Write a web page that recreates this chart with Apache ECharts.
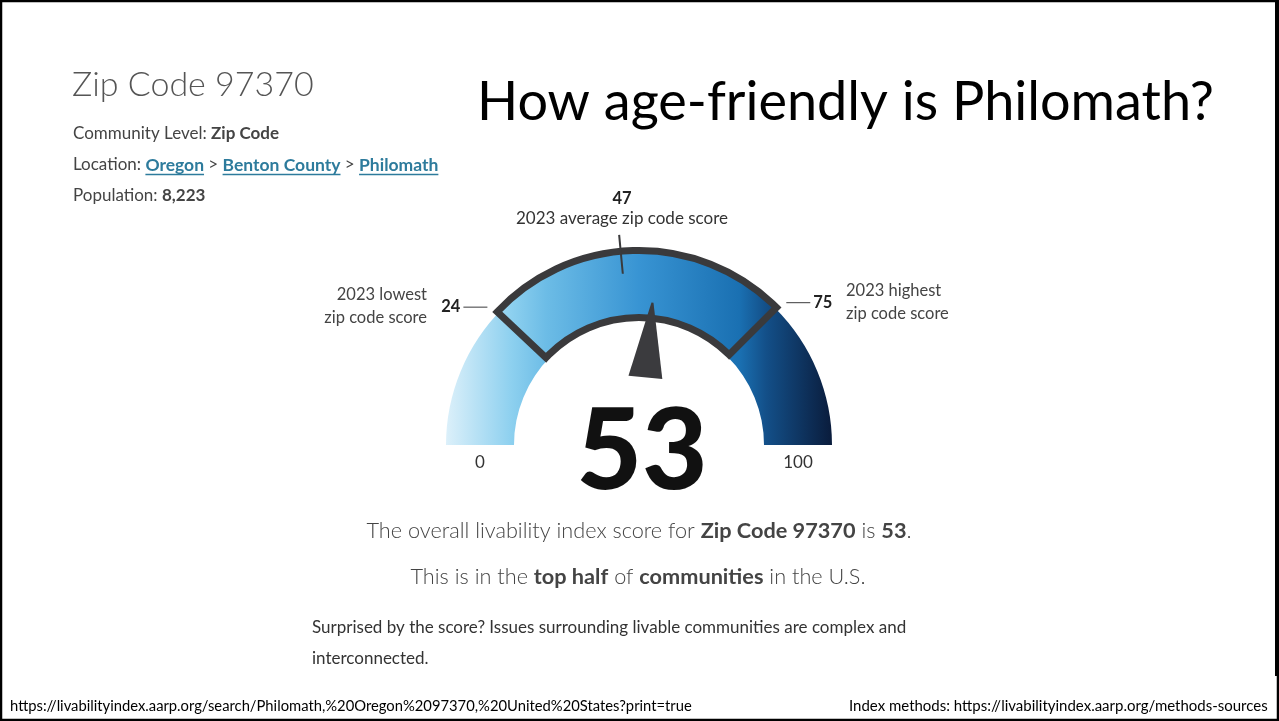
<!DOCTYPE html>
<html>
<head>
<meta charset="utf-8">
<title>How age-friendly is Philomath?</title>
<script src="https://cdn.jsdelivr.net/npm/echarts@6/dist/echarts.min.js"></script>
<style>
  html, body { margin: 0; padding: 0; background: #fff; }
  #main { width: 1279px; height: 721px; }
</style>
</head>
<body>
<div id="main"></div>
<script>
// values
const scaleRange = [0, 100];
const scaleLabels = ['0', '100'];
const markerNames = ['2023 lowest\nzip code score', '2023 average zip code score', '2023 highest\nzip code score'];
const markerValues = [24, 47, 75]; // lowest, average, highest
const scoreValue = [53];

const textColor = '#444';
const darkColor = '#3a3a3c';
const cx = 639, cy = 445, R = 193;

const myChart = echarts.init(document.getElementById('main'));

// helpers to place labels next to the gauge
function angleOf(v) {
  return Math.PI * (1 - (v - scaleRange[0]) / (scaleRange[1] - scaleRange[0]));
}
function polar(v, r) {
  const a = angleOf(v);
  return [cx + r * Math.cos(a), cy - r * Math.sin(a)];
}
function deg(v) { return angleOf(v) * 180 / Math.PI; }

const ctx = document.createElement('canvas').getContext('2d');
function tw(str, size, weight) {
  ctx.font = (weight || 'normal') + ' ' + size + 'px Lato';
  return ctx.measureText(str).width;
}
function fit(str, width, weight) {
  return 20 * width / tw(str, 20, weight);
}

function txt(x, y, text, size, opts) {
  opts = opts || {};
  return {
    type: 'text', x: x, y: y, z: 10,
    style: {
      text: text,
      fontFamily: opts.family || 'Lato',
      fontSize: size,
      fontWeight: opts.weight || 'normal',
      fill: opts.color || textColor,
      align: opts.align || 'left',
      verticalAlign: 'middle',
      lineHeight: opts.lineHeight,
      rich: opts.rich
    }
  };
}
function line(x1, y1, x2, y2, color, w) {
  return { type: 'line', z: 10, shape: { x1: x1, y1: y1, x2: x2, y2: y2 },
    style: { stroke: color || darkColor, lineWidth: w || 1 } };
}

const graphics = [];
// page frame
graphics.push({ type: 'rect', z: 20, shape: { x: 1, y: 1, width: 1277, height: 719 },
  style: { fill: 'none', stroke: '#000', lineWidth: 2.5 } });
graphics.push(line(1276, 0, 1276, 676, '#000', 2));

// header block
const richHead = {
  n: { fontFamily: 'Lato', fontSize: 17, color: textColor },
  b: { fontFamily: 'Lato', fontSize: 17, fontWeight: 'bold', color: '#333' }
};
graphics.push(txt(72, 85, 'Zip Code 97370', 34, { weight: 300, color: '#555' }));
graphics.push(txt(73, 134, '{n|Community Level: }{b|Zip Code}', 17, { rich: richHead }));
const locParts = [['Location: ', 0], ['Oregon', 1], [' > ', 0], ['Benton County', 1], [' > ', 0], ['Philomath', 1]];
let lx = 73;
locParts.forEach(function (p) {
  const size = p[1] ? 17.5 : 17;
  const w = tw(p[0], size, p[1] ? 'bold' : 'normal');
  graphics.push(txt(lx, 165, p[0], size, { weight: p[1] ? 'bold' : 'normal', color: p[1] ? '#2d7b9c' : textColor }));
  if (p[1]) graphics.push(line(lx, 174.5, lx + w, 174.5, '#2d7b9c', 1.5));
  lx += w;
});
graphics.push(txt(73, 196, '{n|Population: }{b|8,223}', 17, { rich: richHead }));

// slide title
const title = 'How age-friendly is Philomath?';
graphics.push(txt(477, 103, title, fit(title, 737), { color: '#000' }));

// lowest / highest markers
const pLow = polar(markerValues[0], 197);
const pHigh = polar(markerValues[2], 197);
graphics.push(line(pLow[0] - 32, pLow[1] - 3, pLow[0] - 8, pLow[1] - 3));
graphics.push(line(pHigh[0] + 8, pHigh[1] - 3, pHigh[0] + 32, pHigh[1] - 3));
graphics.push(txt(pLow[0] - 35, pLow[1] - 3, String(markerValues[0]), 16.5, { weight: 'bold', color: '#222', align: 'right' }));
graphics.push(txt(pHigh[0] + 35, pHigh[1] - 3, String(markerValues[2]), 16.5, { weight: 'bold', color: '#222' }));
graphics.push(txt(427, 306, markerNames[0], 16.5, { align: 'right', lineHeight: 23 }));
graphics.push(txt(846, 302, markerNames[2], 16.5, { lineHeight: 23 }));

// scale end labels under the band
graphics.push(txt(polar(scaleRange[0], 159)[0], 463, scaleLabels[0], 17, { align: 'center', color: '#333' }));
graphics.push(txt(polar(scaleRange[1], 159)[0], 463, scaleLabels[1], 17, { align: 'center', color: '#333' }));

// sentences under the gauge
const richBody = {
  l: { fontFamily: 'Lato', fontSize: 21.7, fontWeight: 300, color: '#444' },
  b: { fontFamily: 'Lato', fontSize: 21.7, fontWeight: 'bold', color: '#333' }
};
graphics.push(txt(639, 531, '{l|The overall livability index score for }{b|Zip Code 97370}{l| is }{b|' + scoreValue[0] + '}{l|.}', 21.7, { align: 'center', rich: richBody }));
graphics.push(txt(638, 577, '{l|This is in the }{b|top half}{l| of }{b|communities}{l| in the U.S.}', 21.7, { align: 'center', rich: richBody }));
graphics.push(txt(312, 628, 'Surprised by the score? Issues surrounding livable communities are complex and', 17, { color: '#333' }));
graphics.push(txt(312, 659, 'interconnected.', 17, { color: '#333' }));

// footer
const srcLeft = 'https://livabilityindex.aarp.org/search/Philomath,%20Oregon%2097370,%20United%20States?print=true';
const srcRight = 'Index methods: https://livabilityindex.aarp.org/methods-sources';
graphics.push(txt(10, 706, srcLeft, fit(srcLeft, 682), { color: '#000' }));
graphics.push(txt(849, 706, srcRight, fit(srcRight, 419), { color: '#000' }));

const bandGradient = new echarts.graphic.LinearGradient(cx - R, 0, cx + R, 0, [
  { offset: 0, color: '#dcf0fa' },
  { offset: 0.17, color: '#8dd0ef' },
  { offset: 0.26, color: '#6cbce6' },
  { offset: 0.5, color: '#3894d3' },
  { offset: 0.76, color: '#1a70b2' },
  { offset: 0.83, color: '#134f88' },
  { offset: 1, color: '#0a1c3c' }
], true);

const noAxis = {
  axisTick: { show: false }, splitLine: { show: false }, axisLabel: { show: false },
  anchor: { show: false }, title: { show: false }
};

const option = {
  animation: false,
  graphic: graphics,
  series: [
    // coloured band 0..100
    Object.assign({
      type: 'gauge', center: [cx, cy], radius: R,
      startAngle: 180, endAngle: 0, min: scaleRange[0], max: scaleRange[1],
      axisLine: { lineStyle: { width: 68, color: [[1, bandGradient]] } },
      pointer: { show: false }, detail: { show: false },
      data: [{ value: scoreValue[0] }]
    }, noAxis),
    // framed range lowest..highest
    Object.assign({
      type: 'gauge', center: [cx, cy], radius: 194.5,
      startAngle: deg(markerValues[0]), endAngle: deg(markerValues[2]),
      min: markerValues[0], max: markerValues[2],
      axisLine: { show: false },
      progress: { show: true, width: 67, itemStyle: { color: 'rgba(0,0,0,0)', borderColor: darkColor, borderWidth: 7 } },
      pointer: { show: false }, detail: { show: false },
      data: [{ value: markerValues[2] }]
    }, noAxis),
    // average tick and its label
    Object.assign({
      type: 'gauge', center: [cx, cy], radius: R,
      startAngle: 180, endAngle: 0, min: scaleRange[0], max: scaleRange[1],
      axisLine: { show: false },
      pointer: { icon: 'rect', width: 2, length: 39, offsetCenter: [0, -172], itemStyle: { color: darkColor } },
      detail: {
        offsetCenter: [-17, -234], width: 300, height: 44, padding: 0, lineHeight: 20,
        fontWeight: 'normal',
        formatter: function (v) { return '{v|' + v + '}\n{t|' + markerNames[1] + '}'; },
        rich: {
          v: { fontFamily: 'Lato', fontSize: 16.5, fontWeight: 'bold', color: '#222', lineHeight: 20 },
          t: { fontFamily: 'Lato', fontSize: 17, fontWeight: 'normal', color: '#333', lineHeight: 20 }
        }
      },
      data: [{ value: markerValues[1] }]
    }, noAxis),
    // needle and big score
    Object.assign({
      type: 'gauge', center: [cx, cy], radius: R,
      startAngle: 180, endAngle: 0, min: scaleRange[0], max: scaleRange[1],
      axisLine: { show: false },
      pointer: {
        icon: 'path://M47,0 L53,0 L100,100 L0,100 Z',
        width: 34, length: 75, offsetCenter: [0, -68],
        itemStyle: { color: '#3b3b3e' }
      },
      detail: {
        offsetCenter: [3, 8], width: 260, height: 120, padding: 0,
        fontFamily: 'Lato', fontSize: 113, fontWeight: 900, lineHeight: 113, color: '#111',
        formatter: '{value}'
      },
      data: [{ value: scoreValue[0] }]
    }, noAxis)
  ]
};

myChart.setOption(option);
window.addEventListener('resize', function () {
  myChart.resize();
});
</script>
</body>
</html>
